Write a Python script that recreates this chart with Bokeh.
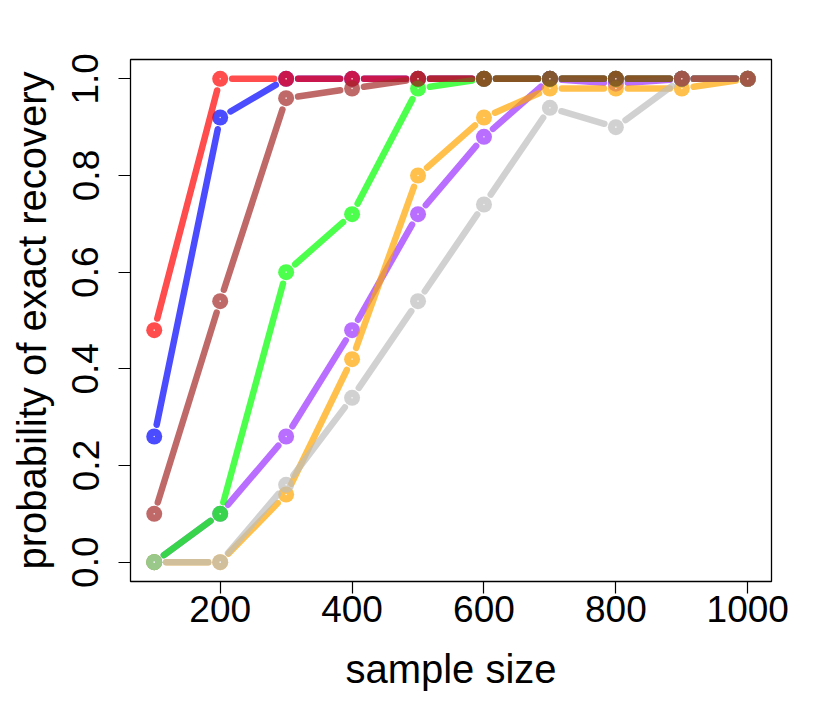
import numpy as np
from bokeh.plotting import figure
from bokeh.models import Range1d, FixedTicker
from bokeh.embed import file_html
from bokeh.resources import INLINE

# ---- data ----
sample_size = [100, 200, 300, 400, 500, 600, 700, 800, 900, 1000]
blue_vals   = [0.26, 0.92, 1.00, 1.00, 1.00, 1.00, 1.00, 1.00, 1.00, 1.00]
red_vals    = [0.48, 1.00, 1.00, 1.00, 1.00, 1.00, 1.00, 1.00, 1.00, 1.00]
purple_vals = [0.00, 0.10, 0.26, 0.48, 0.72, 0.88, 1.00, 0.99, 1.00, 1.00]
orange_vals = [0.00, 0.00, 0.14, 0.42, 0.80, 0.92, 0.98, 0.98, 0.98, 1.00]
green_vals  = [0.00, 0.10, 0.60, 0.72, 0.98, 1.00, 1.00, 1.00, 1.00, 1.00]
gray_vals   = [0.00, 0.00, 0.16, 0.34, 0.54, 0.74, 0.94, 0.90, 1.00, 1.00]
brown_vals  = [0.10, 0.54, 0.96, 0.98, 1.00, 1.00, 1.00, 1.00, 1.00, 1.00]

x_ticks = [200, 400, 600, 800, 1000]
y_ticks = [0.0, 0.2, 0.4, 0.6, 0.8, 1.0]
y_tick_labels = ["0.0", "0.2", "0.4", "0.6", "0.8", "1.0"]

series = [
    (blue_vals,   "#0000FF"),
    (red_vals,    "#FF0000"),
    (purple_vals, "#9B30FF"),
    (orange_vals, "#FFA500"),
    (green_vals,  "#00FF00"),
    (gray_vals,   "#BEBEBE"),
    (brown_vals,  "#A52A2A"),
]

# ---- layout ----
W, H = 808, 704
BL, BR, BT, BB = 130, 37, 59, 123
x0, x1 = 64, 1036
y0, y1 = -0.04, 1.04
FW = W - BL - BR
FH = H - BT - BB
sx = FW / (x1 - x0)
sy = FH / (y1 - y0)

ALPHA = 0.7
GAP = 12.0  # px from point centre where line segment ends (type="b")

p = figure(width=W, height=H, output_backend="svg", toolbar_location=None,
           x_range=Range1d(x0, x1), y_range=Range1d(y0, y1),
           min_border_left=BL, min_border_right=BR,
           min_border_top=BT, min_border_bottom=BB)
p.grid.visible = False
p.outline_line_color = "#000000"
p.outline_line_width = 1.3
p.background_fill_color = "white"
p.border_fill_color = "white"

xs = np.array(sample_size, dtype=float)
for vals, col in series:
    ys = np.array(vals, dtype=float)
    sx0, sy0, sx1, sy1 = [], [], [], []
    for i in range(len(xs) - 1):
        dxp = (xs[i + 1] - xs[i]) * sx
        dyp = (ys[i + 1] - ys[i]) * sy
        L = np.hypot(dxp, dyp)
        if L <= 2 * GAP:
            continue
        t = GAP / L
        sx0.append(xs[i] + t * (xs[i + 1] - xs[i]))
        sy0.append(ys[i] + t * (ys[i + 1] - ys[i]))
        sx1.append(xs[i + 1] - t * (xs[i + 1] - xs[i]))
        sy1.append(ys[i + 1] - t * (ys[i + 1] - ys[i]))
    p.segment(sx0, sy0, sx1, sy1, line_color=col, line_alpha=ALPHA,
              line_width=6.5, line_cap="round")
    p.scatter(xs, ys, size=16, fill_color=col, fill_alpha=ALPHA,
              line_color=None)
    p.scatter(xs, ys, size=1.6, fill_color="white", fill_alpha=0.8,
              line_color=None)

FONT = "Liberation Sans"
for ax in (p.xaxis[0], p.yaxis[0]):
    ax.axis_line_color = None
    ax.major_tick_line_color = "#000000"
    ax.major_tick_line_width = 1.2
    ax.major_tick_out = 12
    ax.major_tick_in = 0
    ax.minor_tick_line_color = None
    ax.major_label_text_font = FONT
    ax.major_label_text_font_size = "37px"
    ax.major_label_text_color = "#000000"
    ax.axis_label_text_font = FONT
    ax.axis_label_text_font_size = "40px"
    ax.axis_label_text_font_style = "normal"
    ax.axis_label_text_color = "#000000"

p.xaxis.ticker = FixedTicker(ticks=x_ticks)
p.yaxis.ticker = FixedTicker(ticks=y_ticks)
p.yaxis.major_label_overrides = {t: l for t, l in zip(y_ticks, y_tick_labels)}
p.yaxis.major_label_orientation = "vertical"
p.xaxis.axis_label = "sample size"
p.yaxis.axis_label = "probability of exact recovery"
p.xaxis.major_label_standoff = 2
p.yaxis.major_label_standoff = 20
p.xaxis.axis_label_standoff = 22
p.yaxis.axis_label_standoff = 16

open("out.html", "w").write(file_html(p, INLINE))
